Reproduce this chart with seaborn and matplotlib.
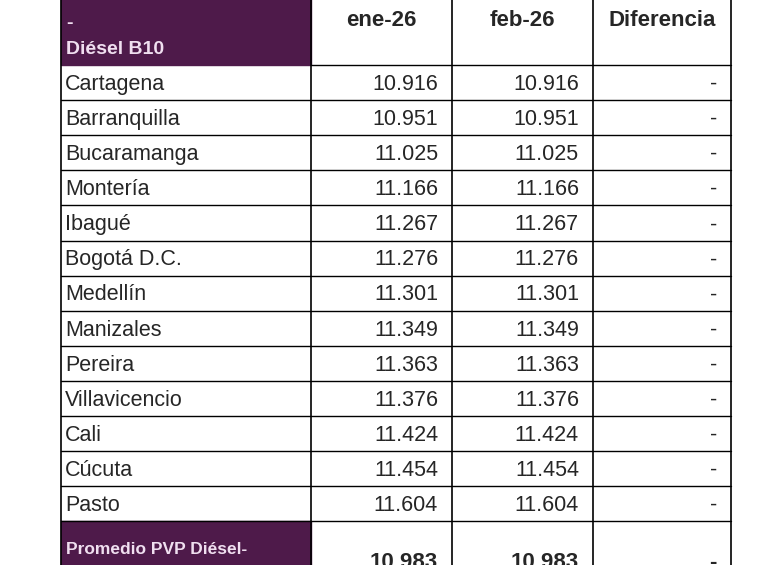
import matplotlib
matplotlib.use("Agg")
import matplotlib.pyplot as plt
import seaborn as sns
from matplotlib.patches import Rectangle

ciudades = ["Cartagena", "Barranquilla", "Bucaramanga", "Montería", "Ibagué",
            "Bogotá D.C.", "Medellín", "Manizales", "Pereira", "Villavicencio",
            "Cali", "Cúcuta", "Pasto"]
ene_26 = ["10.916", "10.951", "11.025", "11.166", "11.267", "11.276", "11.301",
          "11.349", "11.363", "11.376", "11.424", "11.454", "11.604"]
feb_26 = list(ene_26)
diferencia = ["-"] * len(ciudades)
columnas = ["ene-26", "feb-26", "Diferencia"]
promedio = ["10.983", "10.983", "-"]

sns.set_style("white")
plt.rcParams["font.family"] = ["Liberation Sans", "DejaVu Sans"]

purpura = "#4e1a4a"
fig = plt.figure(figsize=(7.8, 5.65), dpi=100)
ax = fig.add_axes([0, 0, 1, 1])
ax.set_xlim(0, 780)
ax.set_ylim(565, 0)
ax.axis("off")

xs = [61, 311, 452, 593, 731]
top_hdr, y0, rh = -60, 65, 35.1
y_end = y0 + rh * len(ciudades)

# encabezado
ax.add_patch(Rectangle((xs[0], top_hdr), xs[1] - xs[0], y0 - top_hdr, color=purpura))
ax.text(66, -1, "Precios por ciudad", color="#f0dff0", fontsize=15, fontweight="bold", va="bottom")
ax.text(66, 24, "-", color="#f0dff0", fontsize=14, fontweight="bold", va="center")
ax.text(66, 50, "Diésel B10", color="#f0dff0", fontsize=14, fontweight="bold", va="center")
for i, c in enumerate(columnas):
    ax.text((xs[i + 1] + xs[i + 2]) / 2, 20, c, fontsize=16, fontweight="bold",
            ha="center", va="center")

# filas
for r, ciudad in enumerate(ciudades):
    yc = y0 + rh * (r + 0.55)
    ax.text(65, yc, ciudad, fontsize=15.5, va="center")
    for i, v in enumerate([ene_26[r], feb_26[r], diferencia[r]]):
        ax.text(xs[i + 2] - 14, yc, v, fontsize=15.5, va="center", ha="right")
    ax.plot([xs[0], xs[-1]], [y0 + rh * (r + 1)] * 2, color="black", lw=1)

# fila de promedio
ax.add_patch(Rectangle((xs[0], y_end), xs[1] - xs[0], 80, color=purpura))
ax.text(66, 550, "Promedio PVP Diésel-", color="#f0dff0", fontsize=12.5, fontweight="bold", va="center")
for i, v in enumerate(promedio):
    ax.text(xs[i + 2] - 14, 563, v, fontsize=16, fontweight="bold", va="center", ha="right")

ax.plot([xs[1], xs[-1]], [y0, y0], color="black", lw=1)
for x in xs:
    ax.plot([x, x], [top_hdr, 600], color="black", lw=1.2)

fig.savefig("out.png", dpi=100)
